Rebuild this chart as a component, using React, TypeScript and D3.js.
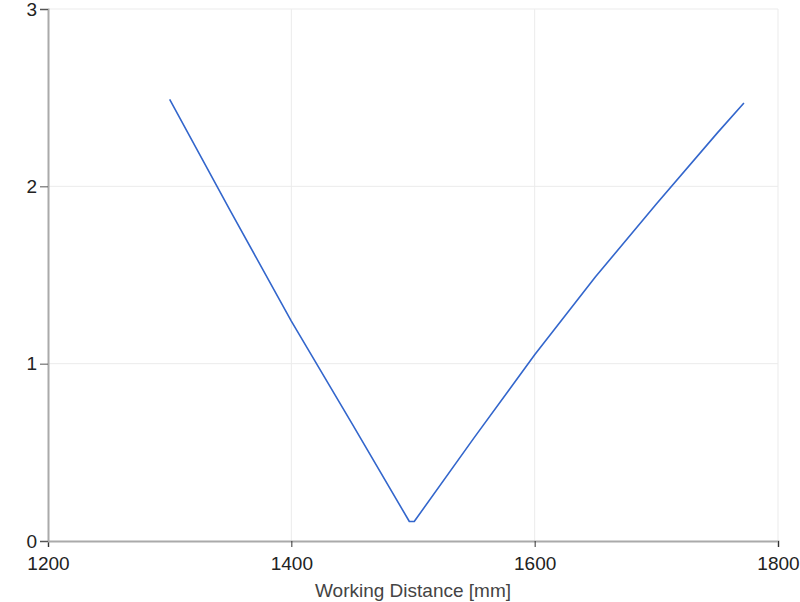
import * as d3 from "d3";
import { useRef, useEffect } from "react";

const distance = [1300, 1350, 1400, 1450, 1497, 1501, 1550, 1600, 1650, 1700, 1750, 1772];
const value = [2.49, 1.86, 1.24, 0.66, 0.11, 0.11, 0.58, 1.05, 1.49, 1.9, 2.3, 2.47];
const xTicks = [1200, 1400, 1600, 1800];
const yTicks = [0, 1, 2, 3];

export default function App() {
  const width = 800;
  const height = 602;
  const marginTop = 9;
  const marginRight = 22;
  const marginBottom = 61;
  const marginLeft = 48;

  const gx = useRef<SVGGElement | null>(null);
  const gy = useRef<SVGGElement | null>(null);

  const x = d3.scaleLinear([1200, 1800], [marginLeft, width - marginRight]);
  const y = d3.scaleLinear([0, 3], [height - marginBottom, marginTop]);

  const data: [number, number][] = distance.map((d, i) => [d, value[i]]);
  const line = d3
    .line<[number, number]>()
    .x((d) => x(d[0]))
    .y((d) => y(d[1]));

  useEffect(() => {
    const g = d3.select(gx.current!);
    g.call(d3.axisBottom(x).tickValues(xTicks).tickFormat(d3.format("d")).tickSizeOuter(0).tickSize(6));
    g.select(".domain").attr("stroke", "#aaa").attr("stroke-width", 2);
    g.selectAll(".tick line").attr("stroke", "#333");
    g.selectAll(".tick text")
      .attr("fill", "#222")
      .attr("font-size", 19)
      .attr("font-family", "Arial, 'Liberation Sans', sans-serif")
      .attr("dy", "1.05em");
  }, []);

  useEffect(() => {
    const g = d3.select(gy.current!);
    g.call(d3.axisLeft(y).tickValues(yTicks).tickFormat(d3.format("d")).tickSizeOuter(0).tickSize(8));
    g.select(".domain").attr("stroke", "#aaa").attr("stroke-width", 2);
    g.selectAll(".tick line").attr("stroke", "#555");
    g.selectAll(".tick text")
      .attr("fill", "#222")
      .attr("font-size", 19)
      .attr("font-family", "Arial, 'Liberation Sans', sans-serif")
      .attr("x", -11);
  }, []);

  return (
    <svg
      width={width}
      height={height}
      style={{ position: "absolute", left: 0, top: 0, background: "white" }}
    >
      <g stroke="#ebebeb" strokeWidth={1}>
        {xTicks.slice(1).map((t) => (
          <line key={t} x1={x(t)} x2={x(t)} y1={marginTop} y2={height - marginBottom} />
        ))}
        {yTicks.slice(1).map((t) => (
          <line key={t} x1={marginLeft} x2={width - marginRight} y1={y(t)} y2={y(t)} />
        ))}
      </g>
      <path
        fill="none"
        stroke="#3366cc"
        strokeWidth={1.6}
        strokeLinejoin="round"
        d={line(data) as string}
      />
      <g ref={gx} transform={`translate(0,${height - marginBottom})`} />
      <g ref={gy} transform={`translate(${marginLeft},0)`} />
      <text
        x={(marginLeft + width - marginRight) / 2}
        y={597}
        textAnchor="middle"
        fontSize={19}
        fill="#444"
        fontFamily="Arial, 'Liberation Sans', sans-serif"
      >
        Working Distance [mm]
      </text>
    </svg>
  );
}
